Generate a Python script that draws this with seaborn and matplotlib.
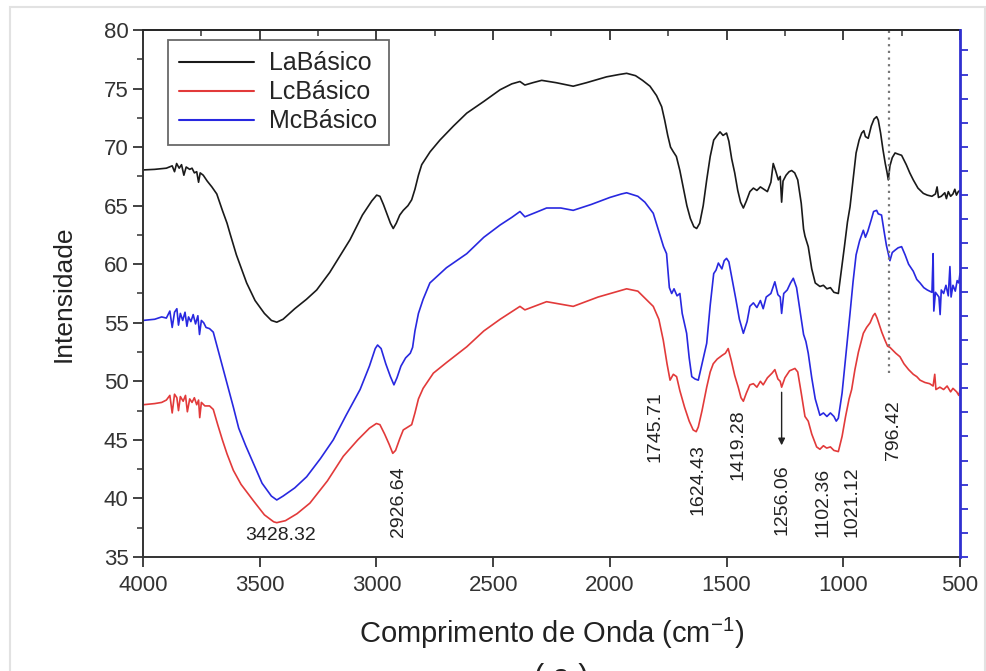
import numpy as np
import pandas as pd
import seaborn as sns
import matplotlib.pyplot as plt
from matplotlib.patches import Rectangle
from matplotlib.ticker import MultipleLocator

la_x = [4000, 3950, 3900, 3875, 3865, 3856, 3845, 3835, 3825, 3815, 3800, 3790, 3780, 3770, 3762, 3755,
        3742, 3725, 3705, 3684, 3660, 3640, 3627, 3600, 3580, 3556, 3520, 3480, 3450, 3427, 3400, 3350,
        3300, 3256, 3200, 3150, 3113, 3060, 3020, 2999, 2985, 2970, 2956, 2940, 2928, 2915, 2900, 2885,
        2865, 2849, 2835, 2820, 2806, 2770, 2728, 2670, 2613, 2540, 2470, 2420, 2385, 2364, 2330, 2292,
        2230, 2157, 2100, 2014, 1960, 1928, 1890, 1860, 1828, 1800, 1778, 1765, 1752, 1740, 1728, 1715,
        1700, 1685, 1670, 1655, 1640, 1628, 1615, 1600, 1585, 1570, 1555, 1540, 1528, 1515, 1500, 1490,
        1478, 1465, 1452, 1440, 1428, 1415, 1400, 1385, 1370, 1355, 1340, 1325, 1310, 1300, 1290, 1278,
        1270, 1264, 1258, 1245, 1232, 1221, 1208, 1195, 1180, 1170, 1164, 1150, 1135, 1120, 1100, 1085,
        1070, 1055, 1040, 1021, 1008, 995, 982, 971, 958, 945, 932, 921, 912, 905, 893, 880, 868, 857,
        850, 840, 830, 820, 812, 807, 800, 790, 778, 765, 750, 730, 715, 700, 680, 657, 640, 620, 605,
        598, 592, 580, 565, 558, 550, 540, 530, 522, 515, 507, 500]
la_y = [68.05, 68.1, 68.2, 68.4, 67.9, 68.6, 68.2, 68.5, 67.6, 68.3, 68.1, 68.2, 67.8, 67.9, 67.0, 67.8,
        67.6, 67.1, 66.6, 66.0, 64.6, 63.5, 62.6, 60.8, 59.7, 58.4, 56.9, 55.8, 55.2, 55.05, 55.3, 56.2,
        57.0, 57.8, 59.3, 60.9, 62.1, 64.2, 65.4, 65.9, 65.8, 65.1, 64.35, 63.5, 63.05, 63.5, 64.2, 64.6,
        65.0, 65.5, 66.4, 67.6, 68.5, 69.6, 70.6, 71.8, 72.9, 73.9, 74.9, 75.4, 75.6, 75.3, 75.5, 75.7,
        75.5, 75.2, 75.5, 76.0, 76.2, 76.3, 76.1, 75.7, 75.2, 74.4, 73.45, 72.3, 71.0, 70.0, 69.6, 69.2,
        68.0, 66.5, 65.0, 63.9, 63.2, 63.05, 63.5, 65.0, 67.2, 69.2, 70.6, 71.0, 71.3, 71.0, 71.2, 70.5,
        69.0, 67.8, 66.3, 65.3, 64.8, 65.4, 66.2, 66.5, 66.3, 66.6, 66.4, 66.2, 67.0, 68.6, 68.0, 67.2,
        67.5, 65.3, 67.1, 67.6, 67.9, 68.0, 67.8, 67.2, 65.2, 63.0, 62.4, 61.5, 59.6, 58.4, 58.1, 58.2,
        57.9, 58.0, 57.6, 57.5, 59.5, 61.5, 63.6, 64.9, 67.2, 69.5, 70.6, 71.2, 71.4, 70.9, 70.75, 71.8,
        72.4, 72.6, 72.3, 71.2, 69.8, 68.6, 67.8, 67.2, 68.4, 69.1, 69.5, 69.4, 69.3, 68.5, 67.8, 67.2,
        66.5, 66.05, 65.9, 65.8, 66.0, 66.6, 65.7, 65.8, 66.1, 65.6, 66.2, 65.8, 66.0, 66.4, 65.9, 66.2,
        66.3]

mc_x = [4000, 3950, 3920, 3900, 3885, 3875, 3865, 3855, 3848, 3840, 3830, 3820, 3812, 3805, 3795, 3785,
        3775, 3765, 3758, 3750, 3740, 3730, 3715, 3699, 3680, 3660, 3640, 3613, 3590, 3560, 3527, 3490,
        3450, 3427, 3400, 3350, 3299, 3240, 3185, 3130, 3070, 3030, 3005, 2995, 2980, 2960, 2940, 2925,
        2912, 2895, 2875, 2855, 2845, 2835, 2820, 2800, 2771, 2700, 2613, 2540, 2470, 2420, 2385, 2364,
        2320, 2271, 2210, 2157, 2080, 2000, 1950, 1928, 1880, 1850, 1814, 1790, 1770, 1757, 1745, 1735,
        1725, 1712, 1700, 1690, 1671, 1660, 1649, 1635, 1621, 1605, 1585, 1570, 1555, 1545, 1535, 1520,
        1510, 1500, 1490, 1475, 1460, 1445, 1428, 1412, 1400, 1385, 1370, 1355, 1343, 1330, 1310, 1293,
        1280, 1270, 1264, 1255, 1240, 1226, 1214, 1200, 1185, 1170, 1160, 1150, 1135, 1120, 1100, 1085,
        1070, 1055, 1040, 1030, 1021, 1005, 990, 971, 958, 945, 930, 921, 914, 905, 895, 880, 870, 857,
        850, 836, 825, 815, 807, 800, 790, 778, 765, 750, 735, 720, 700, 685, 671, 655, 640, 620, 615,
        612, 605, 590, 585, 580, 570, 560, 550, 543, 538, 530, 520, 512, 505, 500]
mc_y = [55.2, 55.3, 55.5, 55.4, 56.0, 54.6, 55.9, 56.2, 54.8, 55.8, 55.2, 55.9, 54.7, 55.5, 55.1, 55.7,
        54.9, 55.6, 54.0, 55.2, 55.0, 54.6, 54.5, 54.2, 52.8, 51.3, 49.8, 47.8, 46.0, 44.5, 43.0, 41.3,
        40.2, 39.87, 40.2, 40.9, 41.85, 43.4, 45.0, 47.1, 49.3, 51.3, 52.8, 53.1, 52.8, 51.5, 50.4, 49.7,
        50.3, 51.3, 52.0, 52.4, 52.9, 54.3, 55.8, 57.0, 58.4, 59.7, 60.9, 62.3, 63.35, 64.0, 64.5, 64.05,
        64.4, 64.8, 64.8, 64.6, 65.1, 65.7, 66.0, 66.1, 65.8, 65.3, 64.35, 62.8, 61.5, 60.9, 58.0, 57.5,
        57.9, 57.3, 57.5, 55.8, 54.1, 52.0, 50.4, 50.2, 50.1, 51.5, 53.25, 56.5, 59.2, 59.5, 60.1, 59.6,
        60.3, 60.5, 60.2, 58.6, 57.0, 55.3, 54.1, 55.1, 56.4, 56.7, 56.3, 56.9, 56.2, 57.2, 57.5, 58.5,
        57.4, 57.2, 55.8, 57.5, 57.8, 58.4, 58.8, 58.0, 56.0, 54.0, 53.4, 52.4, 50.3, 48.5, 47.1, 47.3,
        47.0, 47.3, 47.0, 46.6, 46.85, 49.0, 52.0, 55.8, 58.5, 60.8, 62.0, 62.5, 62.9, 62.3, 62.8, 63.8,
        64.5, 64.6, 64.3, 64.2, 62.8, 61.6, 60.9, 60.3, 61.0, 61.2, 61.4, 61.5, 60.8, 60.0, 59.4, 58.7,
        58.4, 58.0, 57.8, 57.6, 60.9, 56.0, 57.6, 57.2, 55.7, 57.8, 57.5, 58.2, 57.3, 59.8, 57.2, 58.2,
        57.7, 58.6, 58.4, 59.2]

lc_x = [4000, 3950, 3920, 3900, 3885, 3875, 3865, 3855, 3848, 3840, 3828, 3818, 3810, 3800, 3790, 3780,
        3770, 3762, 3757, 3750, 3735, 3715, 3699, 3680, 3660, 3640, 3613, 3580, 3550, 3527, 3480, 3440,
        3427, 3390, 3340, 3285, 3210, 3142, 3080, 3030, 3000, 2985, 2965, 2945, 2930, 2918, 2900, 2885,
        2865, 2849, 2835, 2820, 2800, 2756, 2700, 2613, 2540, 2470, 2385, 2364, 2271, 2157, 2050, 1928,
        1880, 1814, 1790, 1771, 1755, 1742, 1728, 1714, 1700, 1680, 1660, 1643, 1630, 1621, 1605, 1585,
        1570, 1557, 1540, 1520, 1505, 1493, 1480, 1465, 1450, 1438, 1428, 1415, 1400, 1385, 1370, 1355,
        1343, 1325, 1305, 1293, 1280, 1270, 1264, 1250, 1230, 1207, 1195, 1180, 1164, 1150, 1135, 1114,
        1100, 1085, 1071, 1055, 1040, 1021, 1005, 990, 975, 964, 950, 935, 914, 900, 885, 872, 864, 855,
        845, 835, 821, 810, 800, 790, 775, 757, 740, 720, 700, 685, 671, 650, 630, 615, 608, 603, 586,
        570, 555, 540, 530, 514, 505, 500]
lc_y = [48.0, 48.1, 48.2, 48.4, 48.8, 47.3, 48.9, 48.6, 47.5, 48.7, 48.3, 48.8, 47.4, 48.5, 48.2, 48.6,
        48.0, 48.4, 46.9, 48.2, 47.9, 47.9, 47.6, 46.3, 45.0, 43.8, 42.4, 41.2, 40.4, 39.8, 38.6, 38.0,
        37.93, 38.1, 38.7, 39.6, 41.5, 43.6, 45.0, 46.0, 46.4, 46.3, 45.5, 44.6, 43.85, 44.1, 45.1, 45.85,
        46.1, 46.3, 47.3, 48.5, 49.4, 50.7, 51.6, 52.95, 54.3, 55.3, 56.4, 56.1, 56.8, 56.4, 57.2, 57.9,
        57.7, 56.4, 55.3, 53.5, 51.5, 50.1, 50.6, 50.4, 49.2, 47.8, 46.6, 45.85, 45.7, 46.1, 47.5, 49.5,
        50.8, 51.5, 51.9, 52.2, 52.4, 52.8, 51.8, 50.5, 49.5, 48.6, 48.3, 49.0, 49.7, 49.8, 49.5, 50.0,
        49.7, 50.3, 50.7, 51.0, 50.2, 50.0, 49.5, 50.3, 50.9, 51.1, 50.8, 49.0, 47.0, 46.6, 45.5, 44.4,
        44.2, 44.5, 44.3, 44.4, 44.1, 44.0, 45.3, 47.0, 48.5, 49.3, 51.0, 52.5, 54.1, 54.6, 55.0, 55.6,
        55.8, 55.4, 54.8, 54.2, 53.5, 53.0, 52.9, 52.7, 52.4, 52.1, 51.5, 51.0, 50.6, 50.4, 50.1, 49.9,
        49.8, 49.6, 50.6, 49.3, 49.5, 49.3, 49.6, 49.1, 49.4, 49.1, 48.8, 49.2]

series_names = ["LaBásico", "LcBásico", "McBásico"]
series_colors = ["#1a1a1a", "#e23a3a", "#2828e0"]

# peak labels: text, wavenumber, y position, rotation
peak_labels = ["3428.32", "2926.64", "1745.71", "1624.43", "1419.28", "1256.06", "1102.36", "1021.12", "796.42"]
peak_x = [3409, 2906, 1807, 1621, 1450, 1264, 1086, 964, 786]
peak_y = [36.85, 39.7, 46.1, 41.6, 44.6, 39.9, 39.7, 39.7, 45.8]
peak_rot = [0, 90, 90, 90, 90, 90, 90, 90, 90]
arrow_x, arrow_y0, arrow_y1 = 1264, 49.3, 44.3
dotted_x, dotted_ymin = 803, 50.7

df = pd.concat([
    pd.DataFrame({"onda": la_x, "intensidade": la_y, "amostra": "LaBásico"}),
    pd.DataFrame({"onda": lc_x, "intensidade": lc_y, "amostra": "LcBásico"}),
    pd.DataFrame({"onda": mc_x, "intensidade": mc_y, "amostra": "McBásico"}),
])

sns.set_theme(style="ticks")
plt.rcParams["font.family"] = ["Liberation Sans", "DejaVu Sans"]

fig = plt.figure(figsize=(9.87, 6.71), dpi=100)
ax = fig.add_axes([0.1449, 0.1699, 0.8277, 0.7854])

sns.lineplot(data=df, x="onda", y="intensidade", hue="amostra", hue_order=series_names,
             palette=series_colors, sort=False, estimator=None, linewidth=1.2, ax=ax)
ax.set_xlim(4000, 500)
ax.set_ylim(35, 80)

top = ax.twiny()
ax2 = ax.twinx()

# peak annotations
for lab, px, py, rot in zip(peak_labels, peak_x, peak_y, peak_rot):
    ax.text(px, py, lab, rotation=rot, ha="center", va="center", fontsize=14, color="#222222")
ax.annotate("", xy=(arrow_x, arrow_y1), xytext=(arrow_x, arrow_y0),
            arrowprops=dict(arrowstyle="-|>", color="#222222", lw=1, mutation_scale=10))
ax.vlines(dotted_x, dotted_ymin, 80, colors="#777777", linestyles=(0, (1, 2)), linewidth=1.6)

leg = ax.legend(loc="upper left", bbox_to_anchor=(0.0306, 0.981), fontsize=18, frameon=True,
                fancybox=False, edgecolor="#444444", handlelength=3.0, handletextpad=0.6,
                borderpad=0.45, labelspacing=0.2, borderaxespad=0)
leg.get_frame().set_linewidth(1.3)
for line in leg.get_lines():
    line.set_linewidth(1.5)

ax.set_xlabel("Comprimento de Onda (cm$^{\\mathregular{-1}}$)", fontsize=21, color="#222222", labelpad=14)
ax.set_ylabel("Intensidade", fontsize=19, color="#222222", labelpad=20)

# main axes ticks (same calls as a plain ticks-style axes)
ax.xaxis.set_major_locator(MultipleLocator(500))
ax.yaxis.set_major_locator(MultipleLocator(5))
ax.yaxis.set_minor_locator(MultipleLocator(2.5))
ax.tick_params(axis="both", which="major", direction="out", length=7, width=1.3, color="#333333",
               labelsize=16, labelcolor="#333333")
ax.tick_params(axis="y", which="minor", direction="out", length=4, width=1.1, color="#333333")
ax.tick_params(axis="x", which="major", pad=6)
for s in ["left", "bottom", "top"]:
    ax.spines[s].set_color("#333333")
    ax.spines[s].set_linewidth(1.4)
ax.spines["right"].set_visible(False)

# top axis: inward ticks, no labels
top.set_xlim(4000, 500)
top.xaxis.set_major_locator(MultipleLocator(500))
top.xaxis.set_minor_locator(MultipleLocator(250))
top.tick_params(axis="x", which="major", direction="in", length=7, width=1.3, color="#333333",
                labeltop=False)
top.tick_params(axis="x", which="minor", direction="in", length=4, width=1.1, color="#333333")
for s in ["left", "bottom", "right"]:
    top.spines[s].set_visible(False)

# right blue axis, no labels
ax2.set_ylim(0, 21.85)
ax2.yaxis.set_major_locator(MultipleLocator(1))
ax2.tick_params(axis="y", direction="out", length=6, width=1.3, colors="#3030d0", labelright=False)
for s in ["left", "bottom", "top"]:
    ax2.spines[s].set_visible(False)
ax2.spines["right"].set_color("#3030d0")
ax2.spines["right"].set_linewidth(2)

# outer light frame and cut-off panel tag
fig.add_artist(Rectangle((0.0101, -0.1), 0.9879, 1.0896, transform=fig.transFigure,
                         fill=False, edgecolor="#e2e2e2", linewidth=1.5))
fig.text(0.569, 0.012, "( a )", ha="center", va="top", fontsize=22, color="#222222")

fig.savefig("out.png", dpi=100)
